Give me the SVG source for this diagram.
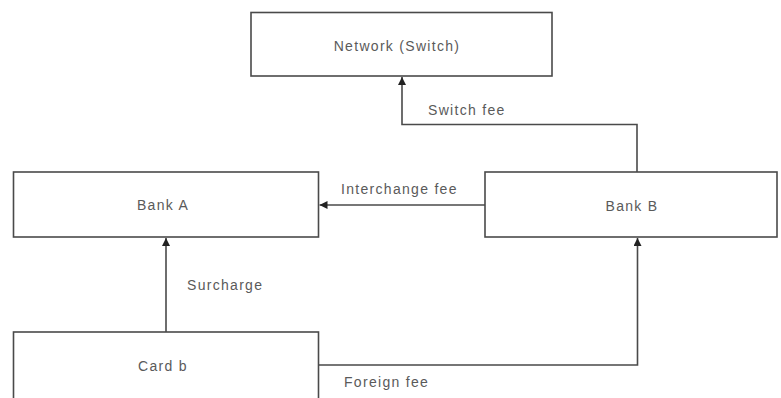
<svg xmlns="http://www.w3.org/2000/svg" width="781" height="398" viewBox="0 0 781 398">
<style>
.box{fill:#fff;stroke:#4a4a4a;stroke-width:1.6}
.lbl{font-family:"Liberation Sans",Arial,sans-serif;font-size:14px;letter-spacing:1.3px;fill:#5a5a5a}
.c{text-anchor:middle}
.edge{fill:none;stroke:#4a4a4a;stroke-width:1.6}
</style>
<defs>
<marker id="arr" viewBox="0 0 10 10" refX="10" refY="5" markerWidth="8" markerHeight="8" markerUnits="userSpaceOnUse" orient="auto">
<path d="M0,0 L10,5 L0,10 z" fill="#222"/>
</marker>
</defs>
<rect width="781" height="398" fill="#fff"/>
<g id="network"><rect class="box" x="251" y="12.5" width="301" height="63.5"/><text class="lbl c" x="397" y="51">Network (Switch)</text></g>
<g id="bankA"><rect class="box" x="13.5" y="172" width="305" height="65"/><text class="lbl c" x="163" y="210">Bank A</text></g>
<g id="bankB"><rect class="box" x="485" y="172" width="292" height="65"/><text class="lbl c" x="632" y="211">Bank B</text></g>
<g id="cardb"><rect class="box" x="13.5" y="332" width="305" height="70"/><text class="lbl c" x="163" y="371">Card b</text></g>
<g id="connectors">
<path class="edge" d="M637,172 V124.5 H402 V77" marker-end="url(#arr)"/>
<path class="edge" d="M485,205 H319.5" marker-end="url(#arr)"/>
<path class="edge" d="M166,332 V238" marker-end="url(#arr)"/>
<path class="edge" d="M318.5,365 H637.5 V238" marker-end="url(#arr)"/>
<text class="lbl" x="428" y="115">Switch fee</text>
<text class="lbl" x="341" y="194">Interchange fee</text>
<text class="lbl" x="187" y="290">Surcharge</text>
<text class="lbl" x="344" y="387">Foreign fee</text>
</g>
</svg>
